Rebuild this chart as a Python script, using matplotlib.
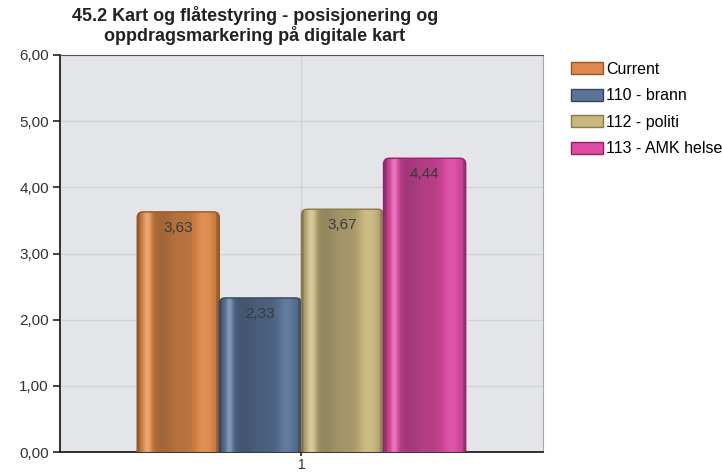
#!/usr/bin/env python3

import numpy as np
import matplotlib
matplotlib.use('Agg')
import matplotlib.pyplot as plt
from matplotlib.patches import FancyBboxPatch, Patch
from matplotlib.ticker import FuncFormatter
from matplotlib.colors import to_rgb

title = "45.2 Kart og flåtestyring - posisjonering og\noppdragsmarkering på digitale kart"
series = ["Current", "110 - brann", "112 - politi", "113 - AMK helse"]
values = [3.63, 2.33, 3.67, 4.44]
colors = ["#de8a4c", "#5b7497", "#c9b780", "#dc4ca4"]
edges = ["#9a5520", "#34465f", "#8a7a45", "#9a1d68"]
categories = ["1"]

plt.rcParams['font.family'] = ['Liberation Sans', 'DejaVu Sans']


def shade(base, n=64):
	# cylindrical look: dark rims, highlight strip near the left, bright right side
	t = np.linspace(0, 1, n)
	f = (0.82 + 0.45 * np.exp(-((t - 0.12) / 0.05) ** 2)
		- 0.08 * np.exp(-((t - 0.30) / 0.12) ** 2)
		+ 0.24 * np.exp(-((t - 0.82) / 0.12) ** 2))
	f = np.where(t < 0.03, 0.65, f)
	f = np.where(t > 0.96, 0.70, f)
	rgb = np.array(to_rgb(base))
	img = np.empty((1, n, 3))
	for i, k in enumerate(f):
		if k <= 1:
			img[0, i] = rgb * k
		else:
			img[0, i] = rgb + (1 - rgb) * (k - 1)
	return np.clip(img, 0, 1)


def fmt(v):
	return f"{v:.2f}".replace('.', ',')


fig = plt.figure(figsize=(7.22, 4.74), dpi=100)
ax = fig.add_axes([0.083, 0.046, 0.669, 0.838])
ax.set_facecolor('#e3e5e9')

width = 0.17
x0 = 1
offsets = (np.arange(len(series)) - (len(series) - 1) / 2) * width
bars = ax.bar(x0 + offsets, values, width, color='none', edgecolor='none', zorder=3)

for rect, col, ec, v in zip(bars, colors, edges, values):
	x, w, h = rect.get_x(), rect.get_width(), rect.get_height()
	box = FancyBboxPatch((x, -0.3), w, h + 0.3,
		boxstyle="round,pad=0,rounding_size=0.012", mutation_aspect=7.3,
		facecolor='none', edgecolor=ec, lw=1.0, zorder=5)
	ax.add_patch(box)
	im = ax.imshow(shade(col), extent=[x, x + w, -0.3, h], aspect='auto',
		interpolation='bilinear', zorder=4)
	im.set_clip_path(box)
	ax.text(x + w / 2, h - 0.24, fmt(v), ha='center', va='center',
		fontsize=11, color='#3a3a3a', zorder=6)

ax.set_xlim(0.5, 1.5)
ax.set_ylim(0, 6)
ax.set_aspect('auto')
ax.set_xticks([1])
ax.set_xticklabels(categories)
ax.set_yticks(np.arange(0, 7))
ax.yaxis.set_major_formatter(FuncFormatter(lambda v, p: fmt(v)))
ax.tick_params(axis='y', labelsize=11, color='#222222', length=5, width=1.2, labelcolor='#333333', pad=3)
ax.tick_params(axis='x', labelsize=10, color='#222222', length=3, width=1.2, labelcolor='#333333', pad=1)
ax.grid(True, color='#cfd2d6', lw=1, zorder=0)
ax.set_axisbelow(True)

for s in ['left', 'bottom']:
	ax.spines[s].set_color('#222222')
	ax.spines[s].set_linewidth(1.3)
ax.spines['top'].set_color('#555555')
ax.spines['right'].set_color('#aaaaaa')

fig.text(0.353, 0.988, title, ha='center', va='top', fontsize=13, fontweight='bold',
	color='#222222', linespacing=1.08)

handles = [Patch(facecolor=c, edgecolor=e, lw=1) for c, e in zip(colors, edges)]
fig.legend(handles, series, loc='upper left', bbox_to_anchor=(0.782, 0.883),
	frameon=False, fontsize=11.5, handlelength=2.0, handleheight=0.8,
	handletextpad=0.2, labelspacing=0.72, borderaxespad=0)

fig.savefig('out.png', dpi=100)
